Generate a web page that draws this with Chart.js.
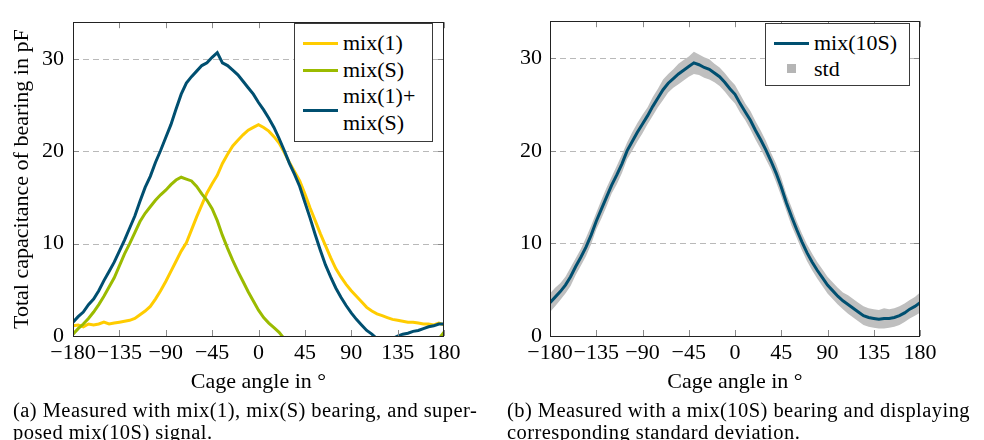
<!DOCTYPE html>
<html>
<head>
<meta charset="utf-8">
<script src="https://cdn.jsdelivr.net/npm/chart.js@4.4.1/dist/chart.umd.min.js"></script>
<style>
  html, body { margin: 0; padding: 0; background: #fff; }
  body { width: 984px; height: 440px; position: relative; overflow: hidden; font-family: 'Liberation Serif', serif; color: #000; }
  canvas { position: absolute; top: 0; }
  #c1 { left: 0; }
  #c2 { left: 492px; }
  .legend { position: absolute; background: #fff; border: 1px solid #3a3a3a; box-sizing: border-box; }
  .lg-line { position: absolute; height: 3px; }
  .lg-text { position: absolute; font-size: 22px; line-height: 22px; white-space: nowrap; }
  .lg-sq { position: absolute; width: 9px; height: 9px; background: #b5b5b5; }
  .caption { position: absolute; font-size: 20.5px; letter-spacing: 0.45px; line-height: 22px; white-space: nowrap; }
</style>
</head>
<body>
<canvas id="c1" width="492" height="400"></canvas>
<canvas id="c2" width="492" height="400"></canvas>

<div class="legend" style="left:294px; top:23px; width:139px; height:119px;">
  <div class="lg-line" style="left:8px; top:18px; width:35px; background:#ffcc00;"></div>
  <div class="lg-text" style="left:48px; top:8px;">mix(1)</div>
  <div class="lg-line" style="left:8px; top:45px; width:35px; background:#9bbb00;"></div>
  <div class="lg-text" style="left:48px; top:35px;">mix(S)</div>
  <div class="lg-line" style="left:8px; top:85px; width:35px; background:#004f70;"></div>
  <div class="lg-text" style="left:48px; top:61px;">mix(1)+</div>
  <div class="lg-text" style="left:48px; top:88px;">mix(S)</div>
</div>

<div class="legend" style="left:765px; top:23px; width:145px; height:63px;">
  <div class="lg-line" style="left:8px; top:18px; width:35px; background:#004f70;"></div>
  <div class="lg-text" style="left:48px; top:8px;">mix(10S)</div>
  <div class="lg-sq" style="left:21px; top:40px;"></div>
  <div class="lg-text" style="left:48px; top:34px;">std</div>
</div>

<div class="caption" style="left:13px; top:399px;">(a) Measured with mix(1), mix(S) bearing, and super-</div>
<div class="caption" style="left:13px; top:421px;">posed mix(10S) signal.</div>
<div class="caption" style="left:507px; top:399px;">(b) Measured with a mix(10S) bearing and displaying</div>
<div class="caption" style="left:507px; top:421px;">corresponding standard deviation.</div>

<script>
// ---------- DATA ----------
const angles = [-180,-175,-170,-165,-160,-155,-150,-145,-140,-135,
  -130,-125,-120,-115,-110,-105,-100,-95,-90,-85,
  -80,-75,-70,-65,-60,-55,-50,-45,-40,-35,
  -30,-25,-20,-15,-10,-5,0,5,10,15,
  20,25,30,35,40,45,50,55,60,65,
  70,75,80,85,90,95,100,105,110,115,
  120,125,130,135,140,145,150,155,160,165,
  170,175,180];

const mix1 = [1.1,1.2,1.0,1.3,1.2,1.3,1.5,1.3,1.4,1.5,
  1.6,1.7,1.9,2.3,2.7,3.2,4.0,4.9,5.9,7.0,
  8.1,9.2,10.1,11.5,12.9,14.2,15.5,16.5,17.4,18.7,
  19.7,20.6,21.2,21.8,22.3,22.6,22.9,22.6,22.2,21.6,
  20.9,19.9,18.8,17.8,16.8,15.4,13.9,12.5,11.1,9.8,
  8.5,7.3,6.4,5.6,4.9,4.3,3.7,3.1,2.7,2.4,
  2.2,2.0,1.8,1.7,1.6,1.5,1.5,1.4,1.3,1.3,
  1.2,1.4,1.2];

const mixS = [0.2,0.8,1.3,1.9,2.6,3.4,4.3,5.3,6.3,7.6,
  8.9,10.0,11.2,12.4,13.3,14.0,14.7,15.3,15.8,16.4,
  16.9,17.2,17.0,16.8,16.2,15.4,14.7,13.8,12.5,10.9,
  9.5,8.2,7.0,5.9,4.8,3.8,2.8,2.0,1.4,0.9,
  0.4,-0.3,null,null,null,null,null,null,null,null,
  null,null,null,null,null,null,null,null,null,null,
  null,null,null,null,null,null,null,null,null,null,
  null,-0.3,0.4];

const mixSum = [1.5,2.1,2.6,3.4,4.0,4.9,6.0,7.0,8.0,9.2,
  10.4,11.7,13.0,14.6,16.1,17.3,18.8,20.1,21.5,22.9,
  24.6,26.2,27.4,28.1,28.7,29.3,29.6,30.2,30.7,29.6,
  29.3,28.8,28.3,27.6,26.9,26.2,25.3,24.5,23.6,22.6,
  21.4,20.1,18.7,17.5,16.2,14.5,12.8,11.0,9.3,7.7,
  6.4,5.2,4.2,3.3,2.5,1.8,1.2,0.6,0.2,-0.3,
  -0.5,-0.5,-0.3,0.0,0.2,0.3,0.5,0.6,0.8,1.0,
  1.1,1.3,1.3];

const mix10S = [3.6,4.2,4.8,5.5,6.4,7.5,8.5,9.6,10.9,12.4,
  13.7,15.0,16.3,17.4,18.6,20.0,21.0,22.0,22.9,23.8,
  24.8,25.7,26.6,27.3,27.8,28.3,28.7,29.1,29.5,29.3,
  29.0,28.8,28.4,28.0,27.4,26.7,26.1,25.1,24.2,23.3,
  22.2,21.2,20.1,18.9,17.6,16.1,14.4,12.9,11.5,10.2,
  9.0,8.0,7.1,6.3,5.5,4.9,4.3,3.8,3.4,3.0,
  2.6,2.2,2.0,1.9,1.8,1.9,1.9,2.0,2.2,2.5,
  2.9,3.2,3.6];

const std10S = [1.0,1.0,0.9,0.9,1.0,0.9,0.9,1.0,1.0,0.9,
  1.0,1.0,0.9,1.0,1.0,0.9,1.0,1.0,1.0,0.9,
  1.0,1.0,1.1,1.0,1.0,1.1,1.1,1.1,1.2,1.1,
  1.1,1.1,1.0,1.0,1.0,1.0,1.0,1.0,0.9,1.0,
  1.0,1.0,1.0,0.9,1.0,1.0,0.9,1.0,0.9,0.9,
  0.9,0.9,0.9,0.9,0.9,0.9,0.9,0.9,1.0,1.0,
  1.0,1.0,1.0,1.0,1.0,1.1,1.0,1.0,1.0,1.0,
  1.0,1.0,1.1];

const xTicks = [-180,-135,-90,-45,0,45,90,135,180];
const yTicks = [0,10,20,30];
const yMax = 34;

// ---------- HELPERS ----------
const FONT = "'Liberation Serif', serif";
const pts = (vals) => angles.map((a, i) => ({x: a, y: vals[i] === null ? null : vals[i]}));
const fmt = (v) => (v < 0 ? '\u2212' + Math.abs(v) : String(v));

const framePlugin = {
  id: 'frame',
  beforeDatasetsDraw(chart) {
    const {ctx, chartArea: a, scales: {y}} = chart;
    ctx.save();
    ctx.strokeStyle = '#b9b9b9';
    ctx.lineWidth = 1;
    ctx.setLineDash([6, 4]);
    yTicks.forEach(v => {
      if (v === 0) return;
      const py = Math.round(y.getPixelForValue(v)) + 0.5;
      ctx.beginPath(); ctx.moveTo(a.left, py); ctx.lineTo(a.right, py); ctx.stroke();
    });
    ctx.restore();
  },
  afterDatasetsDraw(chart) {
    const {ctx, chartArea: a, scales: {x, y}} = chart;
    ctx.save();
    ctx.strokeStyle = '#8a8a8a';
    ctx.lineWidth = 1;
    const L = 6;
    xTicks.forEach(v => {
      const px = Math.round(x.getPixelForValue(v)) + 0.5;
      ctx.beginPath(); ctx.moveTo(px, a.bottom); ctx.lineTo(px, a.bottom - L); ctx.stroke();
      ctx.beginPath(); ctx.moveTo(px, a.top); ctx.lineTo(px, a.top + L); ctx.stroke();
    });
    yTicks.forEach(v => {
      const py = Math.round(y.getPixelForValue(v)) + 0.5;
      ctx.beginPath(); ctx.moveTo(a.left, py); ctx.lineTo(a.left + L, py); ctx.stroke();
      ctx.beginPath(); ctx.moveTo(a.right, py); ctx.lineTo(a.right - L, py); ctx.stroke();
    });
    ctx.strokeStyle = '#222';
    ctx.strokeRect(Math.round(a.left) + 0.5, Math.round(a.top) + 0.5,
                   Math.round(a.right - a.left) - 1, Math.round(a.bottom - a.top));
    ctx.restore();
  }
};

function makeScales(yWidth, yTitle, yPad) {
  return {
    x: {
      type: 'linear', min: -180, max: 180,
      grid: { display: false, drawTicks: false },
      border: { display: false },
      afterBuildTicks: (s) => { s.ticks = xTicks.map(v => ({value: v})); },
      afterFit: (s) => { s.height = 64; },
      ticks: { autoSkip: false, maxRotation: 0, padding: 4, color: '#000',
               font: { family: FONT, size: 22, lineHeight: 1.2 }, callback: (v) => fmt(v) },
      title: { display: true, text: 'Cage angle in \u00b0', color: '#000',
               font: { family: FONT, size: 22, lineHeight: 1.2 }, padding: { top: 0, bottom: 5 } }
    },
    y: {
      type: 'linear', min: 0, max: yMax,
      grid: { display: false, drawTicks: false },
      border: { display: false },
      afterBuildTicks: (s) => { s.ticks = yTicks.map(v => ({value: v})); },
      afterFit: (s) => { s.width = yWidth; },
      ticks: { padding: yPad, color: '#000', font: { family: FONT, size: 22, lineHeight: 1.2 },
               callback: (v) => fmt(v) },
      title: { display: !!yTitle, text: yTitle || '', color: '#000',
               font: { family: FONT, size: 22, lineHeight: 1.2 }, padding: { top: 9, bottom: 0 } }
    }
  };
}

const common = {
  responsive: false,
  animation: false,
  devicePixelRatio: 1,
  events: [],
  plugins: { legend: { display: false }, tooltip: { enabled: false } },
  elements: { point: { radius: 0 }, line: { tension: 0 } }
};

new Chart(document.getElementById('c1'), {
  type: 'line',
  data: {
    datasets: [
      { label: 'mix(1)', data: pts(mix1), borderColor: '#ffcc00', borderWidth: 3, fill: false, order: 3 },
      { label: 'mix(S)', data: pts(mixS), borderColor: '#9bbb00', borderWidth: 3, fill: false, spanGaps: false, order: 2 },
      { label: 'mix(1)+mix(S)', data: pts(mixSum), borderColor: '#004f70', borderWidth: 3, fill: false, order: 1 }
    ]
  },
  options: Object.assign({}, common, {
    layout: { padding: { left: 0, right: 48, top: 14, bottom: 0 } },
    scales: makeScales(73, 'Total capacitance of bearing in pF', 9)
  }),
  plugins: [framePlugin]
});

new Chart(document.getElementById('c2'), {
  type: 'line',
  data: {
    datasets: [
      { label: 'mix(10S)', data: pts(mix10S), borderColor: '#004f70', borderWidth: 3, fill: false, order: 1 },
      { label: 'upper', data: pts(mix10S.map((v, i) => v + std10S[i])), borderWidth: 0, borderColor: 'rgba(0,0,0,0)', fill: false, order: 2 },
      { label: 'std', data: pts(mix10S.map((v, i) => v - std10S[i])), borderWidth: 0, borderColor: 'rgba(0,0,0,0)',
        backgroundColor: '#bfbfbf', fill: '-1', order: 3 }
    ]
  },
  options: Object.assign({}, common, {
    layout: { padding: { left: 0, right: 64, top: 14, bottom: 0 } },
    scales: makeScales(58, '', 8)
  }),
  plugins: [framePlugin]
});
</script>
</body>
</html>
